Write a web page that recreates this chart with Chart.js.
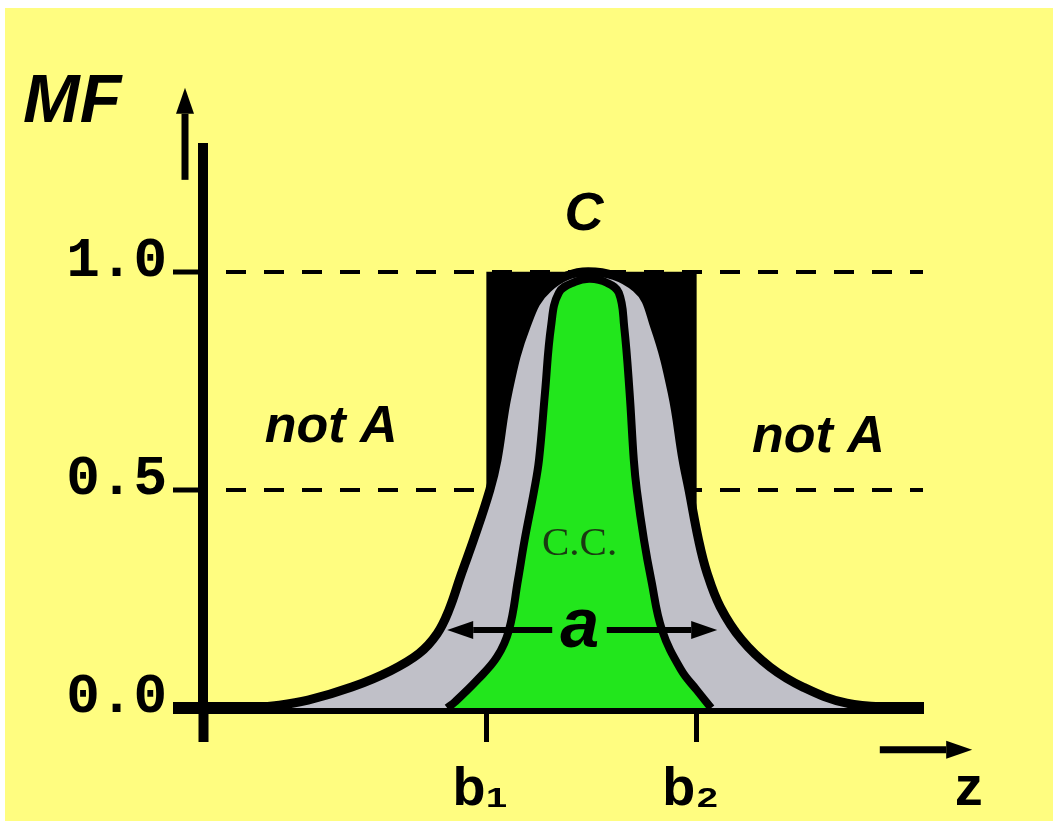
<!DOCTYPE html>
<html>
<head>
<meta charset="utf-8">
<script src="https://cdn.jsdelivr.net/npm/chart.js@4.4.1/dist/chart.umd.min.js"></script>
<style>
  html, body { margin: 0; background: #fff; }
  #wrap { padding: 8px 0 0 5px; }
  canvas { display: block; background: #FFFD80; }
</style>
</head>
<body>
<div id="wrap"><canvas id="mf" width="1048" height="813"></canvas></div>
<script>
// values, z in arbitrary units
const bounds = [4.72, 8.23];
const boundLabels = ['b\u2081', 'b\u2082'];
const mfTicks = [0, 0.5, 1.0];

// outer (grey) membership curve
const outerZ  = [0.78, 1.2, 1.75, 2.48, 3.12, 3.6, 3.9, 4.1, 4.3, 4.52, 4.78, 4.9, 5.08, 5.38, 5.75, 6.42,
                 7.22, 7.53, 7.82, 8.0, 8.1, 8.26, 8.4, 8.62, 8.98, 9.45, 10.0, 10.73, 11.62];
const outerMF = [0, 0.005, 0.018, 0.048, 0.085, 0.125, 0.17, 0.225, 0.305, 0.39, 0.5, 0.569, 0.723, 0.874, 0.963, 1.0,
                 0.963, 0.874, 0.723, 0.569, 0.5, 0.385, 0.31, 0.232, 0.156, 0.094, 0.048, 0.011, 0];

// inner (green) membership curve
const innerZ  = [4.07, 4.2, 4.57, 4.9, 5.1, 5.25, 5.36, 5.52, 5.6, 5.7, 5.8, 5.93, 6.2, 6.45,
                 6.73, 6.93, 7.02, 7.11, 7.18, 7.23, 7.35, 7.47, 7.65, 7.97, 8.23, 8.47];
const innerMF = [0, 0.014, 0.064, 0.117, 0.179, 0.294, 0.385, 0.5, 0.569, 0.723, 0.874, 0.952, 0.977, 0.984,
                 0.975, 0.952, 0.874, 0.723, 0.569, 0.5, 0.385, 0.294, 0.179, 0.087, 0.041, 0];

// black core block between b1 and b2
const rectZ  = [bounds[0], bounds[0], bounds[1], bounds[1]];
const rectMF = [0, 1, 1, 0];

const pts = (xs, ys) => xs.map((v, i) => ({x: v, y: ys[i]}));

const notes = [
  {text: 'MF', z: -3.0, mf: 1.344, font: 'italic bold 68px "Liberation Sans"', align: 'left'},
  {text: 'C', z: 6.35, mf: 1.096, font: 'italic bold 54px "Liberation Sans"', align: 'center'},
  {text: 'not A', z: 1.03, mf: 0.61, font: 'italic bold 52px "Liberation Sans"', align: 'left'},
  {text: 'not A', z: 9.15, mf: 0.587, font: 'italic bold 52px "Liberation Sans"', align: 'left'},
  {text: 'C.C.', z: 5.65, mf: 0.351, font: '41px "Liberation Serif"', align: 'left', color: '#1a3a12'},
  {text: 'a', z: 6.28, mf: 0.14, font: 'italic bold 70px "Liberation Sans"', align: 'center'},
  {text: 'z', z: 12.53, mf: -0.222, font: 'bold 56px "Liberation Sans"', align: 'left'}
];
const arrows = [
  {z0: -0.3, mf0: 1.211, z1: -0.3, mf1: 1.422, w: 7},
  {z0: 11.28, mf0: -0.096, z1: 12.82, mf1: -0.096, w: 7},
  {z0: 5.82, mf0: 0.179, z1: 4.07, mf1: 0.179, w: 6},
  {z0: 6.73, mf0: 0.179, z1: 8.57, mf1: 0.179, w: 6}
];

function arrow(ctx, x0, y0, x1, y1, w) {
  const ang = Math.atan2(y1 - y0, x1 - x0);
  const len = 26, half = 9;
  const bx = x1 - Math.cos(ang) * len, by = y1 - Math.sin(ang) * len;
  ctx.lineWidth = w;
  ctx.strokeStyle = '#000';
  ctx.beginPath();
  ctx.moveTo(x0, y0);
  ctx.lineTo(bx, by);
  ctx.stroke();
  ctx.beginPath();
  ctx.moveTo(x1, y1);
  ctx.lineTo(bx + Math.sin(ang) * half, by - Math.cos(ang) * half);
  ctx.lineTo(bx - Math.sin(ang) * half, by + Math.cos(ang) * half);
  ctx.closePath();
  ctx.fill();
}

const extras = {
  id: 'extras',
  afterDraw(chart) {
    const {ctx, scales: {x, y}} = chart;
    ctx.save();
    ctx.textBaseline = 'alphabetic';
    notes.forEach(n => {
      ctx.font = n.font;
      ctx.fillStyle = n.color || '#000';
      ctx.textAlign = n.align;
      ctx.fillText(n.text, x.getPixelForValue(n.z), y.getPixelForValue(n.mf));
    });
    ctx.fillStyle = '#000';
    arrows.forEach(a => arrow(ctx, x.getPixelForValue(a.z0), y.getPixelForValue(a.mf0),
      x.getPixelForValue(a.z1), y.getPixelForValue(a.mf1), a.w));
    ctx.restore();
  }
};

new Chart(document.getElementById('mf'), {
  type: 'scatter',
  data: {
    datasets: [
      {data: pts(innerZ, innerMF), showLine: true, fill: 'origin', backgroundColor: '#22E61C',
       borderColor: '#000', borderWidth: 8, tension: 0.4, pointRadius: 0},
      {data: pts(outerZ, outerMF), showLine: true, fill: 'origin', backgroundColor: '#C0C0C8',
       borderColor: '#000', borderWidth: 9, tension: 0.4, pointRadius: 0},
      {data: pts(rectZ, rectMF), showLine: true, fill: 'origin', backgroundColor: '#000',
       borderWidth: 0, pointRadius: 0}
    ]
  },
  options: {
    responsive: false,
    devicePixelRatio: 1,
    animation: false,
    layout: {padding: {left: 0, top: 140, right: 130, bottom: 0}},
    plugins: {legend: {display: false}, tooltip: {enabled: false}},
    scales: {
      x: {
        type: 'linear', min: 0, max: 12, z: 1,
        afterBuildTicks: s => { s.ticks = [{value: 0}].concat(bounds.map(v => ({value: v}))); },
        afterFit: s => { s.height = 113; },
        border: {width: 12, color: '#000'},
        grid: {drawOnChartArea: false, tickLength: 34, tickColor: '#000',
               tickWidth: c => c.index === 0 ? 10 : 5},
        ticks: {
          callback: (v, i) => i === 0 ? '' : boundLabels[i - 1],
          color: '#000', padding: 16, maxRotation: 0, autoSkip: false, labelOffset: -6,
          font: {family: '"Liberation Sans", "DejaVu Sans"', weight: 'bold', size: 54}
        }
      },
      y: {
        type: 'linear', min: 0, max: 1.284, z: 1,
        afterBuildTicks: s => { s.ticks = mfTicks.map(v => ({value: v})); },
        afterFit: s => { s.width = 198; },
        border: {width: 10, color: '#000', dash: [20, 18], dashOffset: 20},
        grid: {lineWidth: 4, tickLength: 30, tickColor: '#000',
               color: c => c.tick && c.tick.value === 0 ? 'rgba(0,0,0,0)' : '#000',
               tickWidth: c => c.tick && c.tick.value === 0 ? 12 : 5},
        ticks: {
          callback: v => v.toFixed(1),
          color: '#000', padding: 6, labelOffset: -10,
          font: {family: '"Liberation Mono"', weight: 'bold', size: 56}
        }
      }
    }
  },
  plugins: [extras]
});
</script>
</body>
</html>
